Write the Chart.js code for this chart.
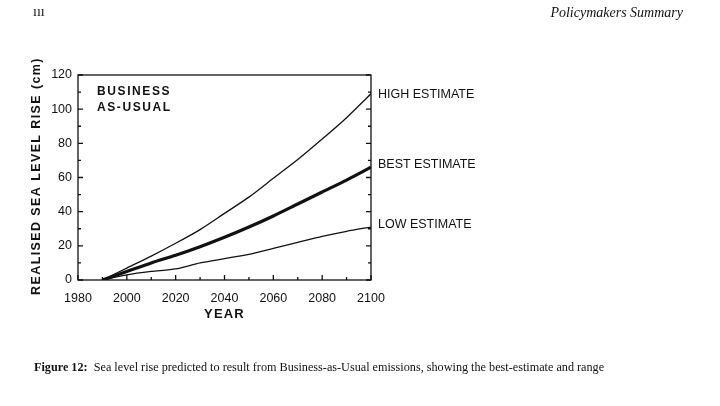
<!DOCTYPE html>
<html>
<head>
<meta charset="utf-8">
<script src="https://cdn.jsdelivr.net/npm/chart.js@4.4.1/dist/chart.umd.min.js"></script>
<style>
  html, body { margin: 0; padding: 0; background: #fff; }
  #wrap { position: relative; width: 720px; height: 406px; overflow: hidden; }
  #chart { position: absolute; left: 0; top: 0; }
  .hdr { position: absolute; font-family: "Liberation Serif", serif; color: #111; white-space: nowrap; }
  #pageNo { left: 33px; top: 4px; font-size: 14px; }
  #section { right: 37px; top: 5px; font-size: 14px; font-style: italic; }
  #caption { left: 34px; top: 360px; font-size: 12.2px; }
</style>
</head>
<body>
<div id="wrap">
  <canvas id="chart" width="720" height="406"></canvas>
  <div class="hdr" id="pageNo">ııı</div>
  <div class="hdr" id="section">Policymakers Summary</div>
  <div class="hdr" id="caption"><b>Figure 12:</b>&nbsp; Sea level rise predicted to result from Business-as-Usual emissions, showing the best-estimate and range</div>
</div>
<script>
// Sea level rise under Business-as-Usual
const years = [1990, 2000, 2010, 2020, 2030, 2040, 2050, 2060, 2070, 2080, 2090, 2100];
const highEstimate = [0, 7, 14, 21.5, 29.5, 39, 48.5, 59.5, 70.5, 82.5, 95, 109];
const bestEstimate = [0, 5, 10, 14.5, 19.5, 25, 31, 37.5, 44.5, 51.5, 58.5, 66];
const lowEstimate = [0, 3, 5, 6.5, 10, 12.5, 15, 18.5, 22, 25.5, 28.5, 31];
const seriesNames = ['HIGH ESTIMATE', 'BEST ESTIMATE', 'LOW ESTIMATE'];
const xTicks = [1980, 2000, 2020, 2040, 2060, 2080, 2100];
const yTicks = [0, 20, 40, 60, 80, 100, 120];

const toPoints = vals => years.map((yr, i) => ({ x: yr, y: vals[i] }));

// box, inward ticks and the text inside/next to the plot
const labelShift = [1, -3, -2];
const figureDecor = {
  id: 'figureDecor',
  afterDraw(chart) {
    const { ctx, chartArea: a, scales: { x, y } } = chart;
    ctx.save();
    ctx.strokeStyle = '#111';
    ctx.lineWidth = 1.3;
    ctx.strokeRect(a.left, a.top, a.right - a.left, a.bottom - a.top);

    ctx.beginPath();
    for (let v = 1980; v <= 2100; v += 10) {
      const px = x.getPixelForValue(v);
      const len = v % 20 === 0 ? 5 : 3;
      ctx.moveTo(px, a.bottom); ctx.lineTo(px, a.bottom - len);
    }
    for (let v = 0; v <= 120; v += 10) {
      const py = y.getPixelForValue(v);
      const len = v % 20 === 0 ? 5 : 3;
      ctx.moveTo(a.left, py); ctx.lineTo(a.left + len, py);
      ctx.moveTo(a.right, py); ctx.lineTo(a.right - len, py);
    }
    ctx.stroke();

    ctx.fillStyle = '#111';
    // series labels to the right of the box
    ctx.font = '12.5px "Liberation Sans", Arial, sans-serif';
    ctx.textAlign = 'left';
    ctx.textBaseline = 'middle';
    chart.data.datasets.forEach((ds, i) => {
      const last = ds.data[ds.data.length - 1];
      ctx.fillText(seriesNames[i], a.right + 7, y.getPixelForValue(last.y) + labelShift[i]);
    });

    // scenario label
    ctx.font = 'bold 12px "Liberation Sans", Arial, sans-serif';
    ctx.letterSpacing = '1.6px';
    ctx.fillText('BUSINESS', a.left + 19, a.top + 17);
    ctx.fillText('AS-USUAL', a.left + 19, a.top + 33);

    // axis titles
    ctx.font = 'bold 13px "Liberation Sans", Arial, sans-serif';
    ctx.letterSpacing = '1.2px';
    ctx.textAlign = 'center';
    ctx.fillText('YEAR', (a.left + a.right) / 2, 314);

    ctx.font = 'bold 12.5px "Liberation Sans", Arial, sans-serif';
    ctx.letterSpacing = '1.4px';
    ctx.translate(37, 176);
    ctx.rotate(-Math.PI / 2);
    ctx.fillText('REALISED SEA LEVEL RISE (cm)', 0, 0);
    ctx.restore();
  }
};

new Chart(document.getElementById('chart'), {
  type: 'line',
  data: {
    datasets: [
      { label: seriesNames[0], data: toPoints(highEstimate), borderColor: '#111', borderWidth: 1.3 },
      { label: seriesNames[1], data: toPoints(bestEstimate), borderColor: '#111', borderWidth: 3.2 },
      { label: seriesNames[2], data: toPoints(lowEstimate), borderColor: '#111', borderWidth: 1.3 }
    ]
  },
  options: {
    responsive: false,
    animation: false,
    layout: { padding: { left: 30, top: 75, right: 349, bottom: 86 } },
    elements: { point: { radius: 0 }, line: { tension: 0.25 } },
    plugins: { legend: { display: false }, tooltip: { enabled: false } },
    scales: {
      x: {
        type: 'linear',
        min: 1980,
        max: 2100,
        afterBuildTicks: s => { s.ticks = xTicks.map(v => ({ value: v })); },
        afterFit: s => { s.height = 40; },
        grid: { display: false, drawTicks: false, tickLength: 0 },
        border: { display: false },
        ticks: {
          padding: 11,
          color: '#111',
          font: { family: '"Liberation Sans", Arial, sans-serif', size: 12.5 },
          maxRotation: 0,
          callback: v => String(v)
        }
      },
      y: {
        min: 0,
        max: 120,
        afterBuildTicks: s => { s.ticks = yTicks.map(v => ({ value: v })); },
        afterFit: s => { s.width = 48; },
        grid: { display: false, drawTicks: false, tickLength: 0 },
        border: { display: false },
        ticks: {
          padding: 6,
          color: '#111',
          font: { family: '"Liberation Sans", Arial, sans-serif', size: 12.5 }
        }
      }
    }
  },
  plugins: [figureDecor]
});
</script>
</body>
</html>
